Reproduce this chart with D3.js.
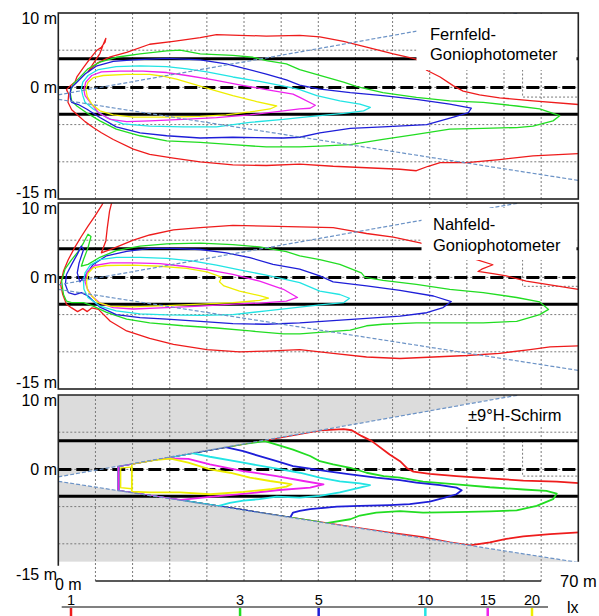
<!doctype html>
<html>
<head>
<meta charset="utf-8">
<script src="https://cdnjs.cloudflare.com/ajax/libs/d3/7.8.5/d3.min.js"></script>
<style>
  body { margin: 0; background: #fff; }
  text { font-family: "Liberation Sans", Arial, sans-serif; fill: #000; }
</style>
</head>
<body>
<svg id="chart" width="599" height="616"></svg>
<script>
// isolux levels (lx) and their colours
var levels = [1, 3, 5, 10, 15, 20];
var levelColors = ["#ee1c1c", "#22dd22", "#1e1ed8", "#22e4e4", "#ee22ee", "#eeee00"];

var xGrid = [5, 10, 15, 20, 25, 30, 35, 40, 45, 50, 55, 60, 65];
var yGrid = [5, 0, -5, -10];
var laneLines = [3.85, -3.6];
var beamUpper = [[0, -1.0], [62, 10]];
var beamLower = [[0, -1.6], [70, -12.5]];
var yTickValues = [10, 0, -15];
var yTickLabels = ["10 m", "0 m", "-15 m"];
var xEndLabels = ["0 m", "70 m"];
var panelLabels = [["Fernfeld-", "Goniophotometer"], ["Nahfeld-", "Goniophotometer"], ["\u00b19\u00b0H-Schirm"]];
var markerLines = [
  [[62.5, 2.4], [62.5, -1.3], [70, -1.3]],
  [[62.5, 2.4], [62.5, -1.2], [70, -1.2]],
  [[62.5, 3.85], [62.5, -0.9], [70, -0.9]]
];

// ---- Fernfeld
var ff1 = [[70,-8.9],[63.9,-9.2],[59.4,-9.7],[55,-10.1],[51.4,-10.1],[49.8,-10.6],[48.2,-11.2],[46,-11],[41.5,-10.8],[37,-10.6],[32.5,-10.3],[28,-10.5],[23.5,-10.4],[19.1,-10],[15.5,-9.5],[12.3,-9],[10.1,-8.3],[7.4,-7],[5.8,-6.1],[4.7,-5.4],[3.6,-4.6],[2.7,-3.8],[1.8,-3],[1.3,-2],[1.4,-0.9],[1.1,-0.3],[1.6,0.2],[2.25,0.72],[2.5,1.4],[3.4,2.7],[4.3,3.9],[5.2,5],[5.8,5.4],[6.3,6.1],[6.4,6.6],[6.1,5.9],[5.6,4.55],[4.7,3.2],[4,2.1],[5.3,3.3],[7,4.1],[9.2,4.7],[12.3,5.8],[15.5,6.2],[19.1,6.7],[21.3,7.1],[24.4,7],[28,6.9],[32.5,7],[35.2,6.8],[38.4,6.2],[41.5,5.4],[45.1,4.5],[48.2,3.8],[49.6,2.3],[51.4,1.4],[53.2,0.2],[54.5,-0.5],[56.7,-1],[59.4,-1.4],[63.9,-1.8],[70,-2.3]];
var ff3 = [[1.8,-1.8],[1.6,-0.7],[2,0.45],[2.9,1.35],[4,2.5],[5.6,3.4],[7.8,4.05],[11,4.5],[14.6,4.9],[16.4,5],[19.1,4.5],[23.5,4.3],[26.2,4.05],[28,3.6],[30.7,3.15],[32.5,2.4],[35.2,1.6],[38.4,0.7],[40.2,0.1],[43.7,-0.7],[48.2,-1.35],[52.7,-1.8],[57.2,-2],[61.7,-2.5],[64.8,-2.9],[67.5,-3.8],[66.6,-4.5],[63.9,-5.2],[61.7,-5.4],[57.2,-5.5],[52.7,-5.6],[48.2,-6.3],[43.7,-7],[39.3,-7.7],[35.2,-7.9],[32.5,-8],[28,-8],[23.5,-7.7],[19.1,-7.4],[14.6,-7.2],[11,-6.5],[7.8,-5.6],[5.6,-4.5],[3.8,-3.4],[2.5,-2.5],[1.8,-1.8]];
var ff5 = [[1.6,-1.35],[1.6,-0.8],[1.7,-0.1],[2.5,0.7],[3.6,1.8],[5.2,2.9],[7.4,3.5],[10.1,3.7],[14.6,3.9],[19.1,3.7],[22.6,3.15],[25.3,2.5],[28,1.8],[30.7,1],[32.5,0.3],[35,-0.2],[39.3,-0.7],[43.7,-1.1],[48.2,-1.6],[52.7,-2.25],[55.6,-2.8],[55.2,-3.4],[53.2,-4],[49.6,-5],[43.7,-5.3],[39.3,-5.5],[35.2,-6.1],[32.5,-6.7],[30.3,-6.8],[23.5,-6.7],[19.1,-6.8],[14.6,-6.5],[11,-6.1],[7.8,-5.3],[5.6,-4.05],[3.8,-2.9],[2.7,-2.3],[1.8,-2],[1.6,-1.35]];
var ff10 = [[3.3,-1.1],[3.1,-0.2],[3.3,0.7],[4,1.6],[5.4,2.4],[7.8,2.8],[11,2.9],[14.6,2.8],[17.3,2.5],[20,2.1],[23.5,1.4],[27.1,0.8],[30.7,0.1],[32.5,-0.3],[34.8,-1.1],[37.9,-1.8],[40.6,-2.25],[42,-2.7],[41.1,-3.15],[38.4,-3.5],[35.2,-3.8],[32.5,-4.05],[30.3,-4.3],[25.8,-4.7],[21.3,-5.3],[16.8,-5.3],[12.3,-5.2],[8.7,-4.9],[6.5,-4.05],[4.7,-2.9],[3.6,-2],[3.3,-1.1]];
var ff15 = [[3.6,-1.1],[3.45,-0.35],[3.7,0.7],[4.5,1.6],[5.8,2.1],[8.3,2.2],[11.4,2.2],[14.6,2],[17.3,1.6],[20.9,1],[24.4,0.35],[28,-0.3],[31.6,-0.9],[32.5,-1.35],[34.6,-2.4],[33.9,-2.8],[32.5,-2.9],[30.3,-3.15],[25.8,-3.7],[21.3,-4.05],[16.8,-4.3],[12.3,-4.5],[9.2,-4.6],[7,-4.3],[5.4,-3.4],[4.3,-2],[3.6,-1.1]];
var ff20 = [[3.9,-1.25],[3.7,-0.2],[4,0.7],[4.7,1.3],[6.05,1.6],[9.2,1.75],[12.3,1.75],[14.1,1.5],[15.9,1.1],[18.2,0.45],[20.9,-0.35],[23.5,-1.1],[26.7,-1.9],[29.4,-2.5],[28.5,-2.9],[25.8,-3.3],[22.6,-3.7],[19.1,-3.9],[14.6,-4],[10.1,-4],[7.4,-3.7],[5.6,-3.15],[4.5,-2.25],[3.9,-1.25]];

// ---- Nahfeld
var nf1 = [[70,-9.2],[66.2,-9.35],[63.5,-9.7],[59.4,-10.2],[55,-10.5],[50.5,-10.7],[46,-10.9],[41.5,-10.7],[37,-10.2],[32.5,-9.7],[28,-9.9],[24.4,-10],[20,-9.7],[15.5,-9],[12.3,-8.2],[9.2,-7.2],[7,-5.9],[5.4,-4.3],[4.5,-4.1],[3.9,-4.6],[3.3,-4.2],[2.6,-4.6],[1.8,-4.1],[1.1,-3.6],[0.6,-2.3],[0.3,-0.9],[0.7,0.85],[1.35,2.4],[2.2,4],[3.1,5.5],[4,6.9],[4.9,8.2],[5.8,9.6],[6.3,10.5],[7.3,10.5],[6.9,8.9],[6.6,6.7],[6.4,4.9],[5.8,3.3],[7.4,3.9],[10.1,5],[12.3,5.7],[15.5,6.4],[19.1,6.7],[23.5,7],[28,6.9],[32.5,6.8],[37,6.7],[39.3,6.3],[41.5,5.9],[45.1,5.4],[48.7,4.65],[52,3.6],[56.3,2.4],[58.5,1.7],[57,1.1],[56.5,0.8],[58.5,0.5],[60.3,0.2],[63,-0.5],[66.2,-1],[70,-1.6]];
var nf3 = [[1.1,-3.2],[0.7,-2.3],[0.45,-0.5],[0.9,1.1],[1.8,2.4],[2.7,3.5],[3.4,4.65],[4,5.8],[4.4,5.5],[4,4],[3.4,2.4],[3.1,1.5],[4,1.75],[5.6,2.7],[7.8,3.6],[11,4.2],[14.6,4.5],[19.1,4.6],[23.5,4.4],[27.1,4.1],[30.7,3.45],[32.5,2.9],[35.2,2.4],[37.9,1.75],[40.8,0.6],[41.3,0],[43.7,-0.4],[48.2,-0.95],[52.7,-1.6],[57.2,-2.05],[61.7,-2.7],[64.8,-3.3],[66,-4.3],[64.8,-5],[61.7,-5.9],[57.2,-6.1],[52.7,-6.1],[48.2,-6.1],[43.7,-6.3],[41.5,-6.5],[39.3,-7.1],[35.2,-7.4],[32.5,-7.6],[30.3,-7.6],[25.8,-7.2],[21.3,-6.8],[16.8,-6.5],[12.3,-6.1],[9.2,-5.6],[6.5,-4.7],[4.7,-3.85],[3.4,-3.4],[1.8,-3.4],[1.1,-3.2]];
var nf5 = [[1.35,-2.05],[0.95,-0.95],[1.1,0.4],[1.8,1.75],[2.55,3.1],[3.1,4.2],[3.4,3.75],[2.8,1.95],[2.55,0.6],[2.9,-0.6],[3.6,0.2],[4.7,1.75],[6.5,2.9],[9.2,3.5],[12.3,3.9],[15.5,3.9],[19.1,3.75],[22.6,3.3],[25.8,2.65],[28.9,1.75],[32.5,1.1],[35.2,0.2],[37,-0.6],[41.5,-1.15],[46,-1.75],[50.5,-2.5],[52.9,-3.25],[51.8,-4.05],[49.6,-4.75],[46,-5.2],[41.5,-5.5],[37,-5.8],[32.5,-6.1],[28,-6.3],[23.5,-6.2],[19.1,-5.9],[14.6,-5.6],[11,-5.4],[7.8,-5],[5.6,-4],[4,-2.5],[3.1,-2.05],[2.25,-2.3],[1.35,-2.05]];
var nf10 = [[3.45,-1.6],[3.4,-0.6],[3.6,0.6],[4.3,1.65],[5.6,2.4],[7.8,2.7],[11,2.7],[14.6,2.55],[18.2,2.2],[21.3,1.65],[24.4,1],[28,0.3],[30.7,-0.3],[32.5,-0.7],[35.2,-1.85],[37.9,-2.3],[39.2,-2.8],[38.4,-3.4],[35.2,-3.7],[32.5,-4],[28,-4.5],[23.5,-5],[19.1,-5.1],[14.6,-5.05],[11,-4.9],[7.8,-4.5],[5.6,-3.85],[4,-2.7],[3.45,-1.6]];
var nf15 = [[3.9,-1.5],[3.6,-0.6],[3.9,0.75],[4.9,1.6],[7,1.95],[10.1,1.95],[13.7,1.85],[16.8,1.5],[20,1.05],[23.5,0.4],[27.1,-0.5],[30.3,-1.6],[32.2,-2.7],[30.7,-3.2],[27.1,-3.45],[23.5,-3.6],[19.1,-3.85],[14.6,-4.05],[10.1,-4.25],[7.4,-4.05],[5.6,-3.45],[4.5,-2.5],[3.9,-1.5]];
var nf20 = [[3.9,-1.6],[3.8,-0.6],[4,0.55],[4.7,1.3],[6.5,1.6],[10.1,1.65],[13.7,1.5],[17.3,1.2],[20,0.75],[22,0.05],[21.7,-0.6],[22.3,-1.15],[24.4,-1.85],[27.1,-2.45],[28.3,-2.8],[27.1,-3.1],[23.5,-3.4],[19.1,-3.6],[14.6,-3.8],[10.1,-3.95],[7,-3.85],[5.4,-3.4],[4.5,-2.5],[3.9,-1.6]];

// ---- +-9 deg H-Schirm (clipped by the shield wedge)
var hs1 = [[8.1,-2.9],[8.1,0.45],[15,1.66],[20,2.55],[25,3.44],[30,4.32],[35.2,5.25],[38.4,5.4],[39.5,5.26],[40.8,4.5],[42.2,3.8],[44.6,2],[46,1.1],[46.9,0.2],[47.8,-0.3],[50,-0.6],[53.6,-0.9],[58.1,-1.2],[62.6,-1.5],[67.1,-1.65],[71,-1.9],[71,-8.4],[66.2,-8.7],[62.6,-9],[60.3,-9.35],[58.1,-9.8],[55.4,-10.2],[52.7,-9.8],[49.1,-9.1],[44.6,-8.5],[40,-7.83],[35,-7.05],[30,-6.27],[25,-5.49],[20,-4.71],[15,-3.94],[8.1,-2.9]];
var hs3 = [[8.1,-2.9],[8.1,0.45],[15,1.66],[20,2.55],[25,3.44],[27.8,3.8],[29.4,3.34],[31.6,2.67],[33.9,1.8],[35.2,1.1],[37,0.67],[39.3,0.22],[41.5,-0.45],[43.8,-0.9],[46,-1.1],[49.1,-1.65],[53.6,-2],[58.1,-2.4],[62.6,-2.7],[65.7,-2.9],[67.1,-3.25],[66.6,-4],[64.4,-4.9],[61.7,-5.5],[58.1,-5.65],[53.6,-5.75],[49.1,-5.8],[46,-5.6],[42.8,-5.8],[40.6,-6.2],[39.3,-6.7],[35.7,-7.3],[35.2,-7.1],[30,-6.27],[25,-5.49],[20,-4.71],[15,-3.94],[8.1,-2.9]];
var hs5 = [[8.1,-2.9],[8.1,0.45],[15,1.66],[20,2.55],[22.5,3],[24.9,2.45],[27.1,1.78],[29.4,1.11],[31.6,0.44],[33.9,0.09],[36.1,-0.22],[39.3,-0.67],[42.8,-1.11],[46,-1.43],[48.2,-1.78],[51.4,-2.1],[53.6,-2.45],[54.3,-2.8],[53.6,-3.34],[51.8,-3.87],[50,-4.32],[47.3,-4.68],[44.6,-4.8],[40.6,-4.9],[37.5,-5],[33.9,-5.35],[32.5,-5.57],[31.6,-5.8],[31.2,-6.5],[25,-5.49],[20,-4.71],[15,-3.94],[8.1,-2.9]];
var hs10 = [[8.1,-2.9],[8.1,0.45],[15,1.66],[18,2.2],[20.4,1.7],[24.9,0.9],[29.4,0.1],[32.5,-0.45],[35.2,-1.1],[37.9,-1.6],[40.6,-1.87],[41.96,-2.1],[40.6,-2.45],[37.9,-3.1],[35.2,-3.55],[32.5,-3.79],[29.4,-3.66],[27.1,-4],[24.9,-4.2],[23.1,-4.5],[21.5,-4.95],[15,-3.94],[8.1,-2.9]];
var hs15 = [[8.1,-2.9],[8.1,0.45],[9.9,0.76],[14,1.5],[17.5,1.42],[20.4,0.67],[24.9,-0.22],[29.4,-0.9],[33,-1.56],[35.7,-2],[33.9,-2.45],[29.4,-2.8],[24.9,-3.3],[20.4,-3.7],[16.5,-4.1],[15,-3.94],[8.1,-2.9]];
var hs20 = [[9.9,-3],[9.9,0.76],[12.9,1.25],[15.1,1.45],[17.5,0.9],[20.4,0],[23.1,-0.45],[25.8,-1.1],[28.5,-1.56],[30.7,-1.87],[31.4,-2],[30.7,-2.32],[28.5,-2.67],[24.9,-3.03],[20.4,-3.34],[16.4,-3.1],[12.3,-3.1],[9.9,-3]];
var hs20b = [[9.9,0.3],[8.4,0.2],[8.4,-2.45],[9.9,-2.6]];

var panels = [
  { contours: [ff1, ff3, ff5, ff10, ff15, ff20], extra: [], shaded: false },
  { contours: [nf1, nf3, nf5, nf10, nf15, nf20], extra: [], shaded: false },
  { contours: [hs1, hs3, hs5, hs10, hs15, hs20], extra: [[hs20b, 5]], shaded: true }
];

// ---- layout
var svg = d3.select("#chart");
var defs = svg.append("defs");
var x = d3.scaleLinear().domain([0, 70]).range([58.3, 578.3]);
var panelTops = [13, 203, 395];
var panelHeight = 186;
var textBoxes = [
  { x: 416.5, y: 14, w: 160, h: 56, tx: 430, ty: [39.5, 60] },
  { x: 421.5, y: 208, w: 155, h: 52, tx: 433, ty: [230, 251] },
  { x: 463, y: 396, w: 113.5, h: 29, tx: 468, ty: [421] }
];
var gridColor = "#7a7a7a";
var beamColor = "#6c93c6";

panels.forEach(function(p, i) {
  var top = panelTops[i];
  var y = d3.scaleLinear().domain([10, -15]).range([top, top + panelHeight]);
  var line = d3.line().x(function(d) { return x(d[0]); }).y(function(d) { return y(d[1]); });
  var g = svg.append("g");
  var plotBottom = p.shaded ? y(-12.4) : y(-15);
  var wedge = [beamUpper[0], beamUpper[1], [70, 10], beamLower[1], beamLower[0]];

  var clip = defs.append("clipPath").attr("id", "clip" + i);
  if (p.shaded) {
    clip.append("path").attr("d", line(wedge) + "Z");
  } else {
    clip.append("rect").attr("x", x(0)).attr("y", y(10))
      .attr("width", x(70) - x(0)).attr("height", y(-15) - y(10));
  }

  if (p.shaded) {
    g.append("rect").attr("x", x(0)).attr("y", y(10))
      .attr("width", x(70) - x(0)).attr("height", plotBottom - y(10))
      .style("fill", "#dcdcdc");
    g.append("path").attr("d", line(wedge) + "Z").style("fill", "#fff");
  }

  // dotted grid
  g.selectAll(".vg").data(xGrid).enter().append("line")
    .attr("x1", function(d) { return x(d); }).attr("x2", function(d) { return x(d); })
    .attr("y1", y(10)).attr("y2", y(-15))
    .style("stroke", gridColor).style("stroke-width", 1).style("stroke-dasharray", "2,2");
  g.selectAll(".hg").data(yGrid).enter().append("line")
    .attr("x1", x(0)).attr("x2", x(70))
    .attr("y1", function(d) { return y(d); }).attr("y2", function(d) { return y(d); })
    .style("stroke", gridColor).style("stroke-width", 1).style("stroke-dasharray", "2,2");
  g.append("path").attr("d", line(markerLines[i]))
    .style("fill", "none").style("stroke", gridColor).style("stroke-dasharray", "2,2");

  // lane markings
  g.selectAll(".lane").data(laneLines).enter().append("line")
    .attr("x1", x(0)).attr("x2", x(70))
    .attr("y1", function(d) { return y(d); }).attr("y2", function(d) { return y(d); })
    .style("stroke", "#000").style("stroke-width", 3);
  g.append("line").attr("x1", x(0)).attr("x2", x(70)).attr("y1", y(0)).attr("y2", y(0))
    .style("stroke", "#000").style("stroke-width", 3).style("stroke-dasharray", "13,5");

  // isolux contours
  var cg = g.append("g").attr("clip-path", "url(#clip" + i + ")");
  p.extra.forEach(function(e) {
    cg.append("path").attr("d", line(e[0]))
      .style("fill", "none").style("stroke", levelColors[e[1]]).style("stroke-width", 1.3);
  });
  p.contours.forEach(function(c, k) {
    cg.append("path").attr("d", line(c))
      .style("fill", "none").style("stroke", levelColors[k])
      .style("stroke-width", p.shaded ? 1.8 : 1.3)
      .style("stroke-linejoin", "round");
  });

  defs.append("clipPath").attr("id", "frameclip" + i).append("rect")
    .attr("x", x(0)).attr("y", y(10)).attr("width", x(70) - x(0)).attr("height", plotBottom - y(10));
  function drawBeams() {
    [beamUpper, beamLower].forEach(function(b) {
      g.append("path").attr("d", line(b))
        .attr("clip-path", "url(#frameclip" + i + ")")
        .style("fill", "none").style("stroke", beamColor).style("stroke-width", 1.2)
        .style("stroke-dasharray", "4,2");
    });
  }

  if (!p.shaded) drawBeams();

  // label box
  var tb = textBoxes[i];
  if (p.shaded) {
    // hide grid above the label, inside the white part of the wedge
    g.append("rect").attr("x", tb.x).attr("y", tb.y).attr("width", tb.w).attr("height", tb.h)
      .attr("clip-path", "url(#clip" + i + ")").style("fill", "#fff");
    drawBeams();
  } else {
    g.append("rect").attr("x", tb.x).attr("y", tb.y).attr("width", tb.w).attr("height", tb.h)
      .style("fill", "#fff");
  }
  panelLabels[i].forEach(function(t, j) {
    g.append("text").attr("x", tb.tx).attr("y", tb.ty[j]).style("font-size", "16.5px").text(t);
  });

  // frame
  if (p.shaded) {
    g.append("path")
      .attr("d", "M" + x(0) + "," + (plotBottom + 4) + "V" + y(10) + "H" + x(70) + "V" + plotBottom)
      .style("fill", "none").style("stroke", "#222").style("stroke-width", 1.6);
    g.append("line").attr("x1", x(5)).attr("x2", x(65)).attr("y1", y(-15)).attr("y2", y(-15))
      .style("stroke", "#222").style("stroke-width", 1.6);
  } else {
    g.append("rect").attr("x", x(0)).attr("y", y(10))
      .attr("width", x(70) - x(0)).attr("height", y(-15) - y(10))
      .style("fill", "none").style("stroke", "#222").style("stroke-width", 1.6);
  }

  // y labels
  g.selectAll(".yl").data(yTickValues).enter().append("text")
    .attr("x", 57).attr("text-anchor", "end").style("font-size", "16px")
    .attr("y", function(d, k) { return k === 0 ? y(d) + 10.5 : (k === 1 ? y(d) + 5.5 : y(d) - 1.5); })
    .text(function(d, k) { return yTickLabels[k]; });

  if (p.shaded) {
    svg.append("text").attr("x", 55).attr("y", y(-15) + 8.5).style("font-size", "16px").text(xEndLabels[0]);
    svg.append("text").attr("x", 560).attr("y", y(-15) + 6).style("font-size", "16.5px").text(xEndLabels[1]);
  }
});

// ---- lux legend
var lx = d3.scaleLog().domain([1, 20]).range([71, 532]);
svg.append("line").attr("x1", 61.7).attr("x2", 548).attr("y1", 607).attr("y2", 607)
  .style("stroke", "#808080").style("stroke-width", 2);
svg.selectAll(".lt").data(levels).enter().append("line")
  .attr("x1", function(d) { return lx(d); }).attr("x2", function(d) { return lx(d); })
  .attr("y1", 608).attr("y2", 616)
  .style("stroke", function(d, k) { return levelColors[k]; }).style("stroke-width", 2.5);
svg.selectAll(".ll").data(levels).enter().append("text")
  .attr("x", function(d) { return lx(d); }).attr("y", 604.5).attr("text-anchor", "middle")
  .style("font-size", "14.5px").text(function(d) { return d; });
svg.append("text").attr("x", 567).attr("y", 613).style("font-size", "16px").text("lx");
</script>
</body>
</html>
